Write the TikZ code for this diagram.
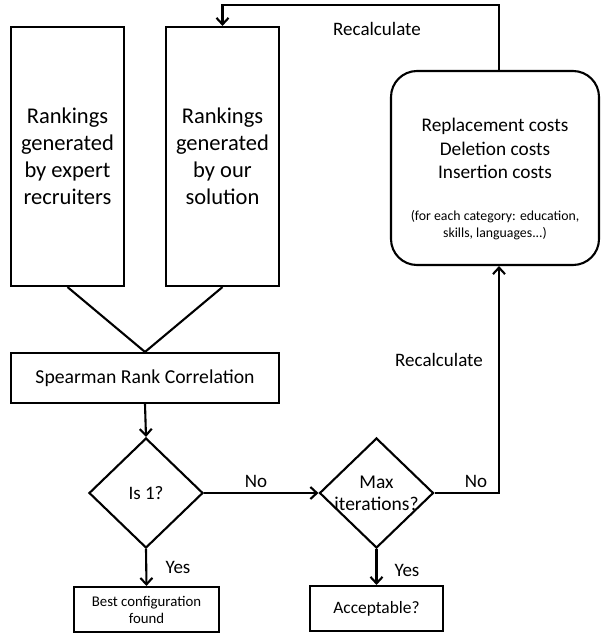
\documentclass[tikz,border=0pt]{standalone}
\usepackage{fontspec}
\setmainfont{Carlito}
\usetikzlibrary{shapes.geometric,arrows.meta}
\begin{document}
\begin{tikzpicture}[x=1pt,y=-1pt,
  every node/.style={inner sep=0pt},
  ln/.style={line width=2.1pt},
  arr/.style={ln,-{Straight Barb[length=6.5pt,width=12pt,line width=2.1pt]}},
  boxx/.style={draw,line width=2.1pt,align=center},
  dia/.style={draw,line width=2.1pt,diamond,minimum width=114pt,minimum height=110pt},
  lbl/.style={font=\fontsize{19}{22}\selectfont}]
\useasboundingbox (0,0) rectangle (600,637);
\node[boxx,minimum width=113pt,minimum height=259pt,font=\fontsize{22.5}{27}\selectfont] (b1) at (67.5,156.5) {Rankings\\generated\\by expert\\recruiters};
\node[boxx,minimum width=113pt,minimum height=259pt,font=\fontsize{22.5}{27}\selectfont] (b2) at (222.5,156.5) {Rankings\\generated\\by our\\solution};
\node[boxx,minimum width=268pt,minimum height=50pt,font=\fontsize{19.7}{23}\selectfont] (sp) at (145,378) {Spearman Rank Correlation};
\node[dia] (d1) at (146,493) {};
\node[font=\fontsize{19}{22}\selectfont] at (d1) {Is 1?};
\node[dia] (d2) at (376.5,493) {};
\node[font=\fontsize{19.5}{22}\selectfont,align=center] at (d2) {Max\\iterations?};
\node[boxx,minimum width=145pt,minimum height=45pt,font=\fontsize{14.8}{17}\selectfont] (bc) at (146.5,609.5) {Best configuration\\found};
\node[boxx,minimum width=133pt,minimum height=45pt,font=\fontsize{17.4}{20}\selectfont] (ac) at (376.5,608.5) {Acceptable?};
\node[draw,line width=2.1pt,rounded corners=26pt,minimum width=208pt,minimum height=194pt] (co) at (495,168) {};
\node[font=\fontsize{19.3}{23.5}\selectfont,align=center] at (495,148.5) {Replacement costs\\Deletion costs\\Insertion costs};
\node[font=\fontsize{13.8}{17}\selectfont,align=center] at (495,225) {(for each category: education,\\skills, languages...)};

\draw[ln] (b1.south) -- (sp.north);
\draw[ln] (b2.south) -- (sp.north);
\draw[arr] (sp.south) -- (d1.north);
\draw[arr] (d1.south) -- (bc.north);
\draw[arr] (d1.east) -- (d2.west);
\draw[arr] (d2.south) -- (ac.north);
\draw[arr] (d2.east) -| ([xshift=4pt]co.south);
\coordinate (tr) at (499,5);
\draw[arr] ([xshift=4pt]co.north) -- (tr) -| (b2.north);

\node[lbl] at (178,567) {Yes};
\node[lbl] at (256,481) {No};
\node[lbl] at (407,570) {Yes};
\node[lbl] at (476,481) {No};
\node[lbl] at (439,360) {Recalculate};
\node[lbl] at (377,29) {Recalculate};
\end{tikzpicture}
\end{document}
